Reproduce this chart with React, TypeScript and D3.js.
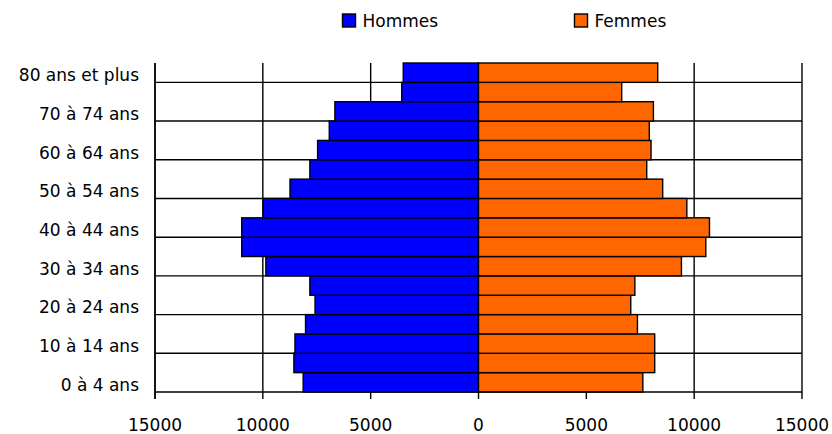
import React, { useEffect, useRef } from "react";
import * as d3 from "d3";

const ageGroups = [
  "0 à 4 ans",
  "5 à 9 ans",
  "10 à 14 ans",
  "15 à 19 ans",
  "20 à 24 ans",
  "25 à 29 ans",
  "30 à 34 ans",
  "35 à 39 ans",
  "40 à 44 ans",
  "45 à 49 ans",
  "50 à 54 ans",
  "55 à 59 ans",
  "60 à 64 ans",
  "65 à 69 ans",
  "70 à 74 ans",
  "75 à 79 ans",
  "80 ans et plus",
];
const hommes = [
  8130, 8560, 8510, 8020, 7580, 7820, 9860, 10980, 10980, 9980, 8740, 7820,
  7460, 6920, 6660, 3560, 3490,
];
const femmes = [
  7620, 8170, 8170, 7370, 7060, 7250, 9410, 10540, 10710, 9660, 8540, 7800,
  8000, 7920, 8110, 6640, 8310,
];
const xTicks = [-15000, -10000, -5000, 0, 5000, 10000, 15000];
const seriesNames = ["Hommes", "Femmes"];
const colors = ["#0000ff", "#ff6600"];

const WIDTH = 832;
const HEIGHT = 434;
const FONT = "'DejaVu Sans', sans-serif";

export default function App() {
  const ref = useRef<SVGSVGElement>(null);

  useEffect(() => {
    document.body.style.margin = "0";
    draw();
  }, []);

  const draw = () => {
    const svg = d3.select(ref.current);
    svg.selectAll("*").remove();

    const left = 155;
    const right = 802;
    const top = 63;
    const bottom = 392;

    const x = d3.scaleLinear().domain([-15000, 15000]).range([left, right]);
    const y = d3
      .scaleBand<number>()
      .domain(d3.range(ageGroups.length))
      .range([bottom, top])
      .padding(0);

    const grid = svg.append("g").attr("stroke", "#000").attr("stroke-width", 1.4);

    // horizontal gridlines every two age groups
    const hLines = d3.range(2, ageGroups.length, 2).map((i) => y(i)! + y.bandwidth());
    grid
      .selectAll("line.h")
      .data(hLines)
      .enter()
      .append("line")
      .attr("x1", left)
      .attr("x2", right)
      .attr("y1", (d) => d)
      .attr("y2", (d) => d);

    // vertical gridlines
    grid
      .selectAll("line.v")
      .data(xTicks.filter((t) => t !== 0))
      .enter()
      .append("line")
      .attr("x1", (d) => x(d))
      .attr("x2", (d) => x(d))
      .attr("y1", top)
      .attr("y2", bottom + 7);

    // bars
    const bars = svg.append("g").attr("stroke", "#000").attr("stroke-width", 1.4);
    bars
      .selectAll("rect.h")
      .data(hommes)
      .enter()
      .append("rect")
      .attr("x", (d) => x(-d))
      .attr("y", (d, i) => y(i)!)
      .attr("width", (d) => x(0) - x(-d))
      .attr("height", y.bandwidth())
      .attr("fill", colors[0]);
    bars
      .selectAll("rect.f")
      .data(femmes)
      .enter()
      .append("rect")
      .attr("x", x(0))
      .attr("y", (d, i) => y(i)!)
      .attr("width", (d) => x(d) - x(0))
      .attr("height", y.bandwidth())
      .attr("fill", colors[1]);

    // axes
    const axis = svg.append("g").attr("stroke", "#000").attr("stroke-width", 1.4);
    axis
      .append("line")
      .attr("x1", left)
      .attr("x2", right)
      .attr("y1", bottom)
      .attr("y2", bottom);
    axis
      .append("line")
      .attr("x1", left)
      .attr("x2", left)
      .attr("y1", top)
      .attr("y2", bottom + 7);
    axis
      .append("line")
      .attr("x1", x(0))
      .attr("x2", x(0))
      .attr("y1", bottom)
      .attr("y2", bottom + 7);

    // x tick labels
    svg
      .append("g")
      .selectAll("text")
      .data(xTicks)
      .enter()
      .append("text")
      .attr("x", (d) => x(d))
      .attr("y", 431)
      .attr("text-anchor", "middle")
      .style("font-family", FONT)
      .style("font-size", "17px")
      .text((d) => String(Math.abs(d)));

    // y labels, every other age group
    svg
      .append("g")
      .selectAll("text")
      .data(ageGroups.map((g, i) => ({ g, i })).filter((d) => d.i % 2 === 0))
      .enter()
      .append("text")
      .attr("x", 139)
      .attr("y", (d) => y(d.i)! + y.bandwidth() / 2 + 8.5)
      .attr("text-anchor", "end")
      .style("font-family", FONT)
      .style("font-size", "17px")
      .text((d) => d.g);

    // legend
    const legendX = [342.5, 574.5];
    const legend = svg
      .append("g")
      .selectAll("g")
      .data(seriesNames)
      .enter()
      .append("g")
      .attr("transform", (d, i) => `translate(${legendX[i]},14)`);
    legend
      .append("rect")
      .attr("width", 13)
      .attr("height", 13)
      .attr("fill", (d, i) => colors[i])
      .attr("stroke", "#000")
      .attr("stroke-width", 1.4);
    legend
      .append("text")
      .attr("x", 20)
      .attr("y", 13)
      .style("font-family", FONT)
      .style("font-size", "17px")
      .text((d) => d);
  };

  return <svg ref={ref} width={WIDTH} height={HEIGHT} style={{ display: "block", background: "#fff" }} />;
}
